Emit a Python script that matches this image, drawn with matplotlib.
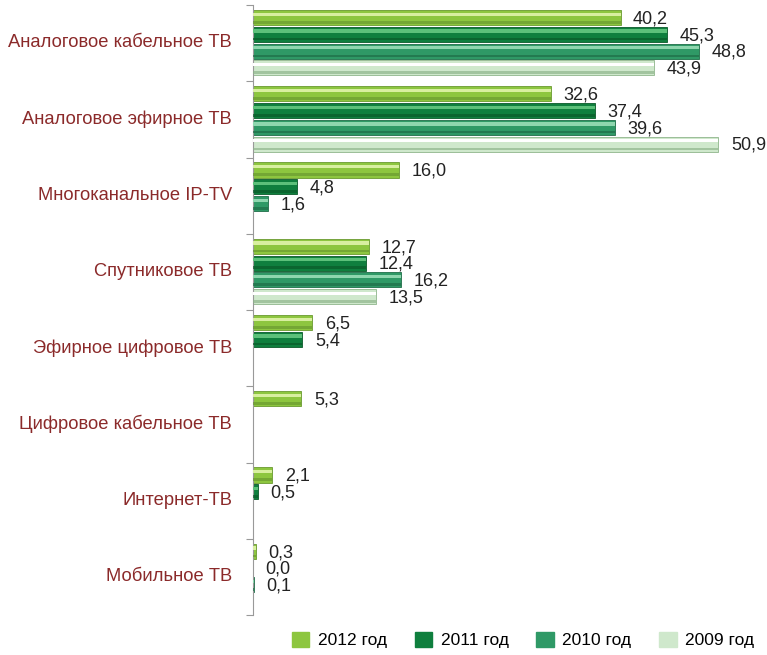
import numpy as np
import matplotlib.pyplot as plt

plt.rcParams['font.family'] = ['Liberation Sans', 'DejaVu Sans']

categories = ['Аналоговое кабельное ТВ', 'Аналоговое эфирное ТВ', 'Многоканальное IP-TV',
              'Спутниковое ТВ', 'Эфирное цифровое ТВ', 'Цифровое кабельное ТВ',
              'Интернет-ТВ', 'Мобильное ТВ']
years = ['2012 год', '2011 год', '2010 год', '2009 год']
nan = np.nan
v2012 = [40.2, 32.6, 16.0, 12.7, 6.5, 5.3, 2.1, 0.3]
v2011 = [45.3, 37.4, 4.8, 12.4, 5.4, nan, 0.5, 0.0]
v2010 = [48.8, 39.6, 1.6, 16.2, nan, nan, nan, 0.1]
v2009 = [43.9, 50.9, nan, 13.5, nan, nan, nan, nan]
series = [v2012, v2011, v2010, v2009]

colors = ['#8dc63f', '#0f7f3e', '#2f9966', '#cfe8cc']
light = ['#d8efa0', '#5cc07a', '#8ed6ae', '#ffffff']
dark = ['#6a9a30', '#0a5a2a', '#1f6e48', '#8fb58c']

fig = plt.figure(figsize=(7.67, 6.55), dpi=100)
ax = fig.add_axes([253 / 767, 1 - 615 / 655, 490 / 767, 610 / 655])

idx = np.arange(len(categories))
h = 0.197
for j, vals in enumerate(series):
    y = idx + 0.164 + 0.22 * j
    vals = np.array(vals, dtype=float)
    ax.barh(y, vals, height=h, color=colors[j], edgecolor=dark[j], linewidth=0.6, zorder=2)
    # bevel highlight and shadow
    ax.barh(y - h * 0.22, vals, height=h * 0.22, color=light[j], linewidth=0, zorder=3)
    ax.barh(y + h * 0.32, vals, height=h * 0.18, color=dark[j], linewidth=0, alpha=0.7, zorder=3)
    for yy, v in zip(y, vals):
        if np.isnan(v):
            continue
        ax.annotate(f'{v:.1f}'.replace('.', ','), xy=(v, yy), xytext=(9, -1),
                    textcoords='offset points', va='center', ha='left',
                    fontsize=13, color='#222222')

ax.set_xlim(0, 53.6)
ax.set_ylim(8, 0)
ax.set_xticks([])
ax.set_yticks(np.arange(0, 9))
ax.set_yticklabels([])
ax.tick_params(axis='y', which='major', length=5, color='#999999', direction='out')
ax.set_yticks(idx + 0.47, minor=True)
ax.set_yticklabels(categories, minor=True, fontsize=13.2, color='#8b2a2a')
ax.tick_params(axis='y', which='minor', length=0, pad=15)
for s in ['top', 'right', 'bottom']:
    ax.spines[s].set_visible(False)
ax.spines['left'].set_color('#999999')

handles = [plt.Rectangle((0, 0), 1, 1, color=c) for c in colors]
fig.legend(handles, years, loc='center', bbox_to_anchor=(523 / 767, 1 - 640 / 655),
           ncol=4, frameon=False, fontsize=12.5, handlelength=1.0, handleheight=1.0,
           handletextpad=0.5, columnspacing=1.6)

fig.savefig('out.png', dpi=100)
